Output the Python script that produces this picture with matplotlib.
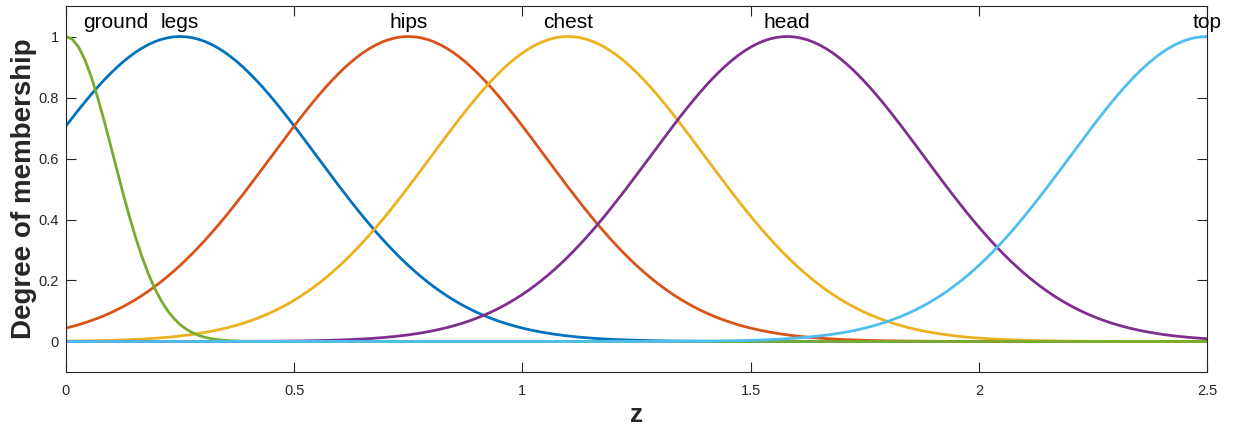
import numpy as np
import matplotlib.pyplot as plt

plt.rcParams['font.family'] = ['Liberation Sans', 'DejaVu Sans']

# gaussian membership functions on z: name, centre, width (sigma)
mf_names = ['legs', 'hips', 'chest', 'head', 'ground', 'top']
mf_centers = [0.25, 0.75, 1.10, 1.58, 0.0, 2.5]
mf_sigmas = [0.30, 0.30, 0.30, 0.30, 0.104, 0.30]
label_x = [0.25, 0.75, 1.10, 1.58, 0.11, 2.5]

colors = ['#0072BD', '#D95319', '#EDB120', '#7E2F8E', '#77AC30', '#4DBEEE']
axcol = '#262626'

z = np.linspace(0, 2.5, 181)

fig = plt.figure(figsize=(12.38, 4.3), dpi=100)
ax = fig.add_axes([0.0533, 0.1349, 0.9217, 0.8511])

for c, s, col in zip(mf_centers, mf_sigmas, colors):
    mu = np.exp(-(z - c) ** 2 / (2 * s ** 2))
    ax.plot(z, mu, color=col, lw=2.0)

for name, lx in zip(mf_names, label_x):
    ax.text(lx, 1.016, name, ha='center', va='bottom', fontsize=15, color='black')

ax.set_xlim(0, 2.5)
ax.set_ylim(-0.1, 1.1)
ax.set_xticks([0, 0.5, 1, 1.5, 2, 2.5])
ax.set_xticklabels(['0', '0.5', '1', '1.5', '2', '2.5'])
ax.set_yticks([0, 0.2, 0.4, 0.6, 0.8, 1])
ax.set_yticklabels(['0', '0.2', '0.4', '0.6', '0.8', '1'])
ax.tick_params(direction='in', length=7, width=0.8, colors=axcol, labelsize=10.5,
               top=True, right=True, pad=9)
ax.tick_params(axis='y', pad=5)
for sp in ax.spines.values():
    sp.set_color(axcol)
    sp.set_linewidth(0.8)

ax.set_xlabel('z', fontsize=19, fontweight='bold', color=axcol, labelpad=3)
ax.set_ylabel('Degree of membership', fontsize=20, fontweight='bold', color=axcol, labelpad=1)

fig.savefig('out.png', dpi=100)
